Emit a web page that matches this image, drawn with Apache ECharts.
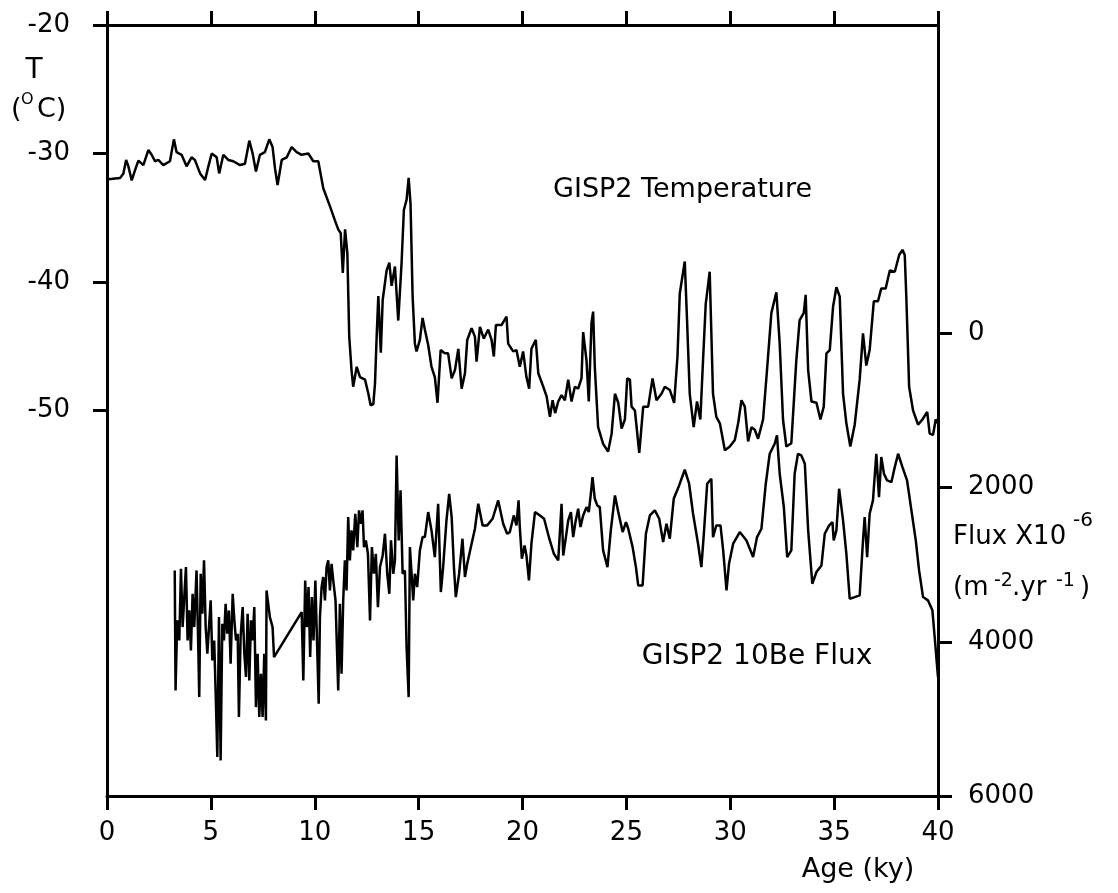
<!DOCTYPE html>
<html lang="en">
<head>
<meta charset="UTF-8">
<title>GISP2 Temperature and 10Be Flux</title>
<script src="https://cdn.jsdelivr.net/npm/echarts@6/dist/echarts.min.js"></script>
<style>
  html, body { margin: 0; padding: 0; background: #fff; }
  #main { width: 1118px; height: 893px; }
</style>
</head>
<body>
<div id="main"></div>
<script>
// GISP2 temperature (deg C) against age (ky)
var tempAge = [0.06,0.63,0.79,0.92,1.03,1.19,1.35,1.51,1.75,1.99,2.15,2.31,2.47,2.71,3.03,3.22,3.35,3.59,3.83,4.07,
  4.23,4.48,4.72,4.88,5.04,5.28,5.40,5.60,5.84,6.08,6.40,6.64,6.85,7.01,7.17,7.36,7.60,7.81,7.97,8.09,
  8.21,8.41,8.65,8.89,9.13,9.37,9.69,9.93,10.17,10.41,10.73,10.97,11.13,11.25,11.35,11.46,11.57,11.66,11.77,11.85,
  12.02,12.18,12.42,12.58,12.69,12.82,12.90,12.98,13.06,13.18,13.27,13.46,13.59,13.70,13.86,14.02,14.18,14.29,14.42,14.52,
  14.61,14.71,14.82,14.90,15.06,15.19,15.30,15.46,15.62,15.78,15.91,16.06,16.26,16.42,16.59,16.75,16.91,17.07,17.23,17.34,
  17.55,17.71,17.79,17.95,18.14,18.35,18.51,18.62,18.72,18.99,19.23,19.31,19.55,19.71,19.87,20.03,20.19,20.32,20.43,20.64,
  20.76,21.00,21.16,21.32,21.45,21.57,21.72,21.88,22.04,22.20,22.36,22.52,22.68,22.84,22.92,23.08,23.19,23.32,23.40,23.48,
  23.64,23.88,24.12,24.29,24.45,24.61,24.77,24.93,25.04,25.17,25.25,25.41,25.62,25.81,26.05,26.26,26.45,26.69,26.85,27.09,
  27.30,27.46,27.57,27.81,27.92,28.05,28.24,28.40,28.56,28.69,28.82,29.01,29.17,29.33,29.50,29.74,29.98,30.22,30.38,30.54,
  30.70,30.86,31.02,31.18,31.34,31.58,31.77,31.98,32.22,32.38,32.54,32.70,32.94,33.18,33.34,33.54,33.63,33.75,33.91,34.15,
  34.34,34.50,34.63,34.79,34.95,35.11,35.27,35.43,35.59,35.78,35.99,36.23,36.39,36.55,36.71,36.91,37.11,37.27,37.48,37.68,
  37.92,38.13,38.29,38.40,38.48,38.61,38.80,39.04,39.25,39.48,39.60,39.76,39.89,40.0];
var tempC = [-32.0,-31.9,-31.55,-30.5,-31.0,-32.1,-31.3,-30.55,-30.9,-29.73,-30.1,-30.6,-30.5,-30.9,-30.6,-28.9,-29.9,-30.1,-31.0,-30.3,
  -30.5,-31.55,-32.06,-31.0,-30.0,-30.3,-31.55,-30.1,-30.5,-30.6,-30.9,-30.8,-29.0,-30.0,-31.4,-30.1,-29.9,-28.9,-29.5,-31.2,
  -32.45,-30.5,-30.3,-29.5,-29.9,-30.1,-30.0,-30.6,-30.6,-32.7,-34.1,-35.2,-35.9,-36.2,-39.3,-35.9,-37.8,-44.25,-46.85,-48.15,
  -46.6,-47.4,-47.6,-48.7,-49.6,-49.5,-47.9,-44.25,-41.1,-45.5,-41.4,-39.1,-38.5,-40.3,-38.8,-43.0,-38.5,-34.4,-33.6,-31.9,
  -33.9,-41.1,-44.8,-45.4,-44.5,-42.8,-43.7,-44.9,-46.6,-47.4,-49.4,-45.3,-45.55,-45.55,-47.5,-46.85,-45.2,-48.3,-47.1,-44.5,
  -43.6,-44.25,-46.2,-43.5,-44.4,-43.7,-44.5,-45.8,-43.35,-43.35,-42.7,-44.8,-45.4,-45.3,-46.6,-45.4,-47.4,-48.3,-45.2,-44.5,
  -47.1,-48.15,-48.9,-50.5,-49.2,-50.2,-49.3,-48.8,-49.2,-47.6,-49.3,-48.15,-48.3,-47.5,-43.9,-46.1,-49.3,-43.2,-42.3,-46.6,
  -51.3,-52.6,-53.2,-51.8,-48.7,-49.4,-51.4,-50.7,-47.5,-47.6,-49.7,-50.0,-53.3,-49.7,-49.7,-47.5,-49.2,-48.7,-48.15,-48.4,
  -49.4,-45.8,-40.9,-38.4,-42.96,-48.7,-51.3,-49.3,-50.7,-46.1,-41.7,-39.2,-48.7,-50.5,-51.0,-53.1,-52.8,-52.3,-51.0,-49.2,
  -49.7,-52.4,-51.3,-51.5,-52.2,-50.7,-46.85,-42.4,-40.8,-44.8,-50.7,-52.8,-52.55,-46.1,-42.96,-42.4,-41.0,-46.85,-49.3,-49.4,
  -50.7,-49.7,-45.55,-45.3,-41.9,-40.4,-41.14,-48.7,-51.0,-52.8,-51.1,-47.6,-44.0,-46.5,-45.3,-41.5,-41.5,-40.5,-40.5,-39.1,
  -39.2,-37.9,-37.5,-37.9,-41.4,-48.15,-50.0,-51.1,-50.7,-50.1,-51.8,-51.9,-50.7,-51.0];

// GISP2 10Be flux (x10^-6 m^-2 yr^-1) against age (ky)
var beAge = [3.26,3.30,3.38,3.48,3.56,3.64,3.72,3.80,3.88,3.96,4.04,4.12,4.20,4.31,4.39,4.44,4.51,4.59,4.67,4.75,
  4.83,4.91,4.99,5.07,5.16,5.24,5.31,5.39,5.47,5.55,5.63,5.71,5.79,5.87,5.95,6.05,6.13,6.21,6.29,6.35,
  6.43,6.53,6.61,6.69,6.77,6.85,6.93,7.01,7.09,7.17,7.25,7.33,7.41,7.49,7.57,7.65,7.68,7.84,7.97,8.04,
  9.37,9.45,9.54,9.62,9.70,9.78,9.86,9.94,10.03,10.09,10.19,10.25,10.33,10.41,10.49,10.57,10.65,10.73,10.81,10.89,
  11.00,11.13,11.21,11.29,11.37,11.45,11.53,11.61,11.69,11.77,11.85,11.95,12.05,12.13,12.22,12.30,12.37,12.46,12.56,12.66,
  12.75,12.85,12.94,13.04,13.14,13.27,13.38,13.49,13.59,13.67,13.78,13.86,13.94,14.04,14.13,14.23,14.34,14.42,14.52,14.58,
  14.74,14.82,14.93,15.06,15.19,15.30,15.46,15.62,15.78,15.94,16.07,16.18,16.34,16.47,16.59,16.70,16.79,16.95,17.11,17.23,
  17.34,17.55,17.71,17.87,18.08,18.30,18.56,18.83,19.07,19.26,19.39,19.58,19.71,19.81,19.87,19.97,20.10,20.19,20.31,20.43,
  20.60,20.84,21.04,21.29,21.51,21.72,21.88,21.96,22.09,22.20,22.33,22.44,22.55,22.68,22.79,22.92,23.08,23.19,23.29,23.37,
  23.48,23.60,23.72,23.88,24.09,24.25,24.45,24.61,24.82,24.98,25.09,25.30,25.46,25.57,25.78,25.94,26.13,26.37,26.58,26.77,
  26.93,27.09,27.28,27.54,27.81,28.02,28.21,28.45,28.61,28.73,28.89,29.09,29.17,29.33,29.53,29.66,29.82,29.94,30.14,30.46,
  30.78,31.10,31.29,31.50,31.71,31.90,32.14,32.25,32.38,32.58,32.74,32.94,33.10,33.26,33.42,33.59,33.75,33.95,34.15,34.39,
  34.55,34.76,34.92,34.98,35.11,35.24,35.43,35.59,35.75,35.99,36.23,36.39,36.47,36.59,36.71,36.87,37.03,37.16,37.27,37.40,
  37.55,37.76,37.92,38.08,38.29,38.51,38.72,38.93,39.09,39.28,39.52,39.73,39.84,39.92,40.0];
var beFlux = [3074,4630,3722,3982,3052,3809,3420,3031,3982,3593,4112,3377,3809,3074,4025,4717,3117,3636,2944,3809,
  4155,3809,3463,4241,3982,4760,5495,3679,5538,3766,3982,3506,3895,3593,4284,3377,3722,3982,3895,4976,
  3939,3550,4155,4457,3636,4501,3722,3982,3550,4847,4155,4976,4414,4976,4155,5020,3334,3679,3809,4198,
  3614,4501,3204,3809,3290,4198,3420,3982,3204,3809,4803,3679,3290,3160,3463,3031,2944,3334,2988,3204,
  3463,4630,3506,4414,3463,2944,3334,2382,2944,2555,2815,2339,2772,2296,2469,2296,2772,2685,2858,3722,
  2772,3117,2858,3550,3031,2880,2598,3117,3377,2685,3117,2944,1583,2685,2036,3117,3074,4068,4717,2772,
  3463,3117,3290,2815,2642,2642,2317,2555,2901,2209,3355,3031,2425,2080,2382,3031,3420,3117,2663,3160,
  2988,2728,2534,2209,2490,2490,2404,2166,2469,2598,2577,2361,2490,2166,2512,2923,2750,2880,3204,2728,
  2317,2361,2404,2663,2858,2944,2209,2880,2642,2425,2317,2642,2447,2274,2512,2361,2253,2317,2080,1864,
  2145,2231,2253,2815,3031,2555,2101,2317,2577,2447,2534,2772,3031,3269,3269,2598,2361,2296,2404,2707,
  2469,2663,2145,1972,1768,1950,2339,2728,3031,2598,1950,1885,2642,2490,2490,2815,3333,2988,2728,2577,
  2685,2901,2642,2534,1950,1561,1431,1323,1820,2253,2901,2815,1820,1561,1582,1690,2555,3247,3095,3009,
  2598,2490,2447,2685,2555,2015,2425,2858,3441,3420,3398,2685,2382,2901,2339,2166,1561,2123,1604,1820,
  1907,1928,1734,1561,1734,1907,2296,2685,3074,3420,3463,3592,3938,4198,4457];

var tempTicks = [-50, -40, -30, -20];
var fluxTicks = [0, 2000, 4000, 6000];

var FONT = '"DejaVu Sans"';

function pairs(xs, ys) {
  return xs.map(function (x, i) { return [x, ys[i]]; });
}

// plain text element for the graphic layer
function txt(text, x, y, size, align) {
  return {
    type: 'text', x: x, y: y,
    style: { text: text, fill: '#000', font: size + 'px ' + FONT, align: align || 'left', verticalAlign: 'middle' }
  };
}

var myChart = echarts.init(document.getElementById('main'));

var axisLine = { show: true, onZero: false, lineStyle: { color: '#000', width: 3 } };
var axisTick = { show: true, length: 14, lineStyle: { color: '#000', width: 3 } };
var plain = function (v) { return String(v); };

myChart.setOption({
  animation: false,
  backgroundColor: '#fff',
  grid: { left: 107, right: 180, top: 25, bottom: 97 },
  xAxis: [
    {
      type: 'value', position: 'bottom', min: 0, max: 40, interval: 5,
      axisLine: axisLine, axisTick: axisTick,
      axisLabel: { color: '#000', fontSize: 26, fontFamily: 'DejaVu Sans', margin: 24, formatter: plain },
      splitLine: { show: false }
    },
    {
      type: 'value', position: 'top', min: 0, max: 40, interval: 5,
      axisLine: axisLine, axisTick: axisTick,
      axisLabel: { show: false },
      splitLine: { show: false }
    }
  ],
  yAxis: [
    {
      type: 'value', position: 'left', min: -80, max: -20, interval: 10,
      axisLine: axisLine,
      axisTick: { show: true, length: 14, lineStyle: { color: '#000', width: 3 }, customValues: tempTicks },
      axisLabel: { color: '#000', fontSize: 26, fontFamily: 'DejaVu Sans', margin: 37, customValues: tempTicks, formatter: plain },
      splitLine: { show: false }
    },
    {
      type: 'value', position: 'right', inverse: true, min: -4000, max: 6000, interval: 2000,
      axisLine: axisLine,
      axisTick: { show: true, length: 14, lineStyle: { color: '#000', width: 3 }, customValues: fluxTicks },
      axisLabel: { color: '#000', fontSize: 26, fontFamily: 'DejaVu Sans', margin: 30, customValues: fluxTicks, formatter: plain },
      splitLine: { show: false }
    }
  ],
  series: [
    {
      name: 'GISP2 Temperature', type: 'line', xAxisIndex: 0, yAxisIndex: 0,
      showSymbol: false, lineStyle: { color: '#000', width: 2.5 },
      data: pairs(tempAge, tempC)
    },
    {
      name: 'GISP2 10Be Flux', type: 'line', xAxisIndex: 0, yAxisIndex: 1,
      showSymbol: false, lineStyle: { color: '#000', width: 2.5 },
      data: pairs(beAge, beFlux)
    }
  ],
  graphic: [
    // left axis title: T (oC)
    txt('T', 34, 71, 28, 'center'),
    txt('(', 11, 110, 27),
    txt('O', 21, 100, 16),
    txt('C)', 37, 110, 27),
    // curve names
    txt('GISP2 Temperature', 553, 190, 27),
    txt('GISP2 10Be Flux', 757, 657, 28, 'center'),
    // right axis title: Flux X10-6 (m-2.yr-1)
    txt('Flux X10', 953, 537, 26),
    txt('-6', 1073, 521, 20),
    txt('(m', 953, 588, 26),
    txt('-2', 994, 581, 19),
    txt('.yr', 1012, 588, 26),
    txt('-1', 1056, 581, 19),
    txt(')', 1080, 588, 26),
    // x axis title
    txt('Age (ky)', 858, 870, 27, 'center')
  ]
});
</script>
</body>
</html>
